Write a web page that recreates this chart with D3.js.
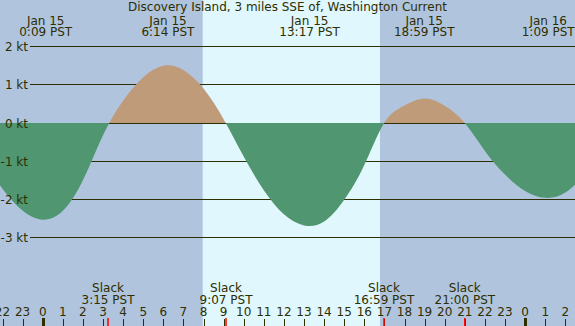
<!DOCTYPE html>
<html>
<head>
<meta charset="utf-8">
<script src="https://cdn.jsdelivr.net/npm/d3@7"></script>
<style>
  html, body { margin: 0; padding: 0; background: #b0c4de; }
  svg { display: block; font-family: "DejaVu Sans", sans-serif; }
</style>
</head>
<body>
<script>
// Current speed at each hour (hours since Jan 15 0:00 PST, knots; + flood, - ebb)
const sampleHours = d3.range(-3, 28);
const sampleKnots = [-0.89, -1.72, -2.29, -2.53, -2.30, -1.50, -0.32, 0.58, 1.20, 1.50, 1.39, 0.90, 0.10,
  -0.88, -1.76, -2.39, -2.68, -2.58, -2.01, -1.10, 0.01, 0.46, 0.64, 0.45, 0, -0.73, -1.35, -1.78, -1.96, -1.82, -1.34];

// max flood / max ebb labels along the top
const extremeHours = [0.15, 6.23, 13.28, 18.98, 25.15];
const extremeDates = ["Jan 15", "Jan 15", "Jan 15", "Jan 15", "Jan 16"];
const extremeTimes = ["0:09 PST", "6:14 PST", "13:17 PST", "18:59 PST", "1:09 PST"];

// slack water labels along the bottom
const slackHours = [3.25, 9.12, 16.98, 21.0];
const slackTimes = ["3:15 PST", "9:07 PST", "16:59 PST", "21:00 PST"];

const sunrise = 7.96, sunset = 16.78;
const ktTicks = [2, 1, 0, -1, -2, -3];
const hourTicks = d3.range(-2, 27);
const title = "Discovery Island, 3 miles SSE of, Washington Current";

const width = 575, height = 326;
const ink = "#2e2e00";

const x = d3.scaleLinear().domain([0, 24]).range([42.7, 525.1]);
const y = d3.scaleLinear().domain([-3, 2]).range([237.6, 46.6]);

const svg = d3.select("body").append("svg")
  .attr("width", width)
  .attr("height", height);

// night / day background
svg.append("rect").attr("width", width).attr("height", height).attr("fill", "#b0c4de");
svg.append("rect")
  .attr("x", x(sunrise)).attr("y", 0)
  .attr("width", x(sunset) - x(sunrise)).attr("height", height)
  .attr("fill", "#dff7fd");

// knot grid lines (under the fill)
svg.selectAll(".grid").data(ktTicks).enter().append("line")
  .attr("x1", 30).attr("x2", width)
  .attr("y1", d => Math.floor(y(d)) + 0.5).attr("y2", d => Math.floor(y(d)) + 0.5)
  .attr("stroke", ink).attr("stroke-width", 1);

// flood / ebb fill
const pts = sampleHours.map((h, i) => ({ h: h, v: sampleKnots[i] }));
const area = d3.area()
  .x(d => x(d.h))
  .y0(y(0))
  .y1(d => y(d.v))
  .curve(d3.curveNatural);

const defs = svg.append("defs");
defs.append("clipPath").attr("id", "above")
  .append("rect").attr("x", 0).attr("y", 0).attr("width", width).attr("height", y(0));
defs.append("clipPath").attr("id", "below")
  .append("rect").attr("x", 0).attr("y", y(0)).attr("width", width).attr("height", height - y(0));

svg.append("path").datum(pts).attr("d", area)
  .attr("fill", "#bf9b7a").attr("clip-path", "url(#above)");
svg.append("path").datum(pts).attr("d", area)
  .attr("fill", "#509670").attr("clip-path", "url(#below)");

// knot labels on top of the fill
svg.selectAll(".ktlabel").data(ktTicks).enter().append("text")
  .attr("x", 28).attr("y", d => y(d) + 4.5)
  .attr("text-anchor", "end").attr("font-size", 12).attr("fill", ink)
  .text(d => d + " kt");

// title
svg.append("text")
  .attr("x", width / 2).attr("y", 11)
  .attr("text-anchor", "middle").attr("font-size", 12).attr("fill", ink)
  .text(title);

// extreme labels
const ext = svg.selectAll(".ext").data(extremeHours).enter().append("g");
ext.append("text")
  .attr("x", d => x(d)).attr("y", 24.5)
  .attr("text-anchor", "middle").attr("font-size", 12).attr("fill", ink)
  .text((d, i) => extremeDates[i]);
ext.append("text")
  .attr("x", d => x(d)).attr("y", 36)
  .attr("text-anchor", "middle").attr("font-size", 12).attr("fill", ink)
  .text((d, i) => extremeTimes[i]);

// slack labels
const sl = svg.selectAll(".slack").data(slackHours).enter().append("g");
sl.append("text")
  .attr("x", d => x(d)).attr("y", 292)
  .attr("text-anchor", "middle").attr("font-size", 12).attr("fill", ink)
  .text("Slack");
sl.append("text")
  .attr("x", d => x(d)).attr("y", 304)
  .attr("text-anchor", "middle").attr("font-size", 12).attr("fill", ink)
  .text((d, i) => slackTimes[i]);

// hour axis
svg.selectAll(".hlabel").data(hourTicks).enter().append("text")
  .attr("x", d => x(d)).attr("y", 316)
  .attr("text-anchor", "middle").attr("font-size", 12).attr("fill", ink)
  .text(d => ((d % 24) + 24) % 24);

svg.selectAll(".htick").data(hourTicks).enter().append("line")
  .attr("x1", d => Math.round(x(d)) + 0.5).attr("x2", d => Math.round(x(d)) + 0.5)
  .attr("y1", d => d % 24 === 0 ? 318 : 319).attr("y2", height)
  .attr("stroke", ink)
  .attr("stroke-width", d => d % 24 === 0 ? 3 : 1);

// slack ticks in red
svg.selectAll(".stick").data(slackHours).enter().append("line")
  .attr("x1", d => x(d)).attr("x2", d => x(d))
  .attr("y1", 318).attr("y2", height)
  .attr("stroke", "#ff0000").attr("stroke-width", 1.5);
</script>
</body>
</html>
